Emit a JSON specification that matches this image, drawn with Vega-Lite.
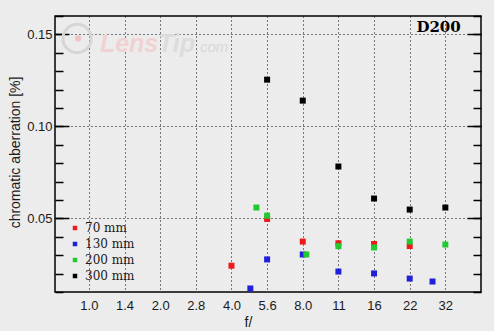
{
  "$schema": "https://vega.github.io/schema/vega-lite/v6.json",
  "width": 426,
  "height": 276,
  "autosize": {"type": "none"},
  "padding": {"left": 55, "top": 16, "right": 13, "bottom": 39},
  "background": "#ececec",
  "config": {
    "view": {"stroke": "black", "strokeWidth": 1.5},
    "axis": {"labelFont": "Liberation Sans", "titleFont": "Liberation Sans", "labelColor": "#1a1a1a", "titleColor": "#1a1a1a"}
  },
  "data": {
    "values": [
      {"focal": "70 mm", "stop": 4, "aberr": 0.0243},
      {"focal": "70 mm", "stop": 5, "aberr": 0.0497},
      {"focal": "70 mm", "stop": 6, "aberr": 0.0374},
      {"focal": "70 mm", "stop": 7, "aberr": 0.0365},
      {"focal": "70 mm", "stop": 8, "aberr": 0.0361},
      {"focal": "70 mm", "stop": 9, "aberr": 0.0350},
      {"focal": "130 mm", "stop": 4.53, "aberr": 0.0119},
      {"focal": "130 mm", "stop": 5, "aberr": 0.0277},
      {"focal": "130 mm", "stop": 6, "aberr": 0.0304},
      {"focal": "130 mm", "stop": 7, "aberr": 0.0211},
      {"focal": "130 mm", "stop": 8, "aberr": 0.0201},
      {"focal": "130 mm", "stop": 9, "aberr": 0.0173},
      {"focal": "130 mm", "stop": 9.64, "aberr": 0.0157},
      {"focal": "200 mm", "stop": 4.7, "aberr": 0.0559},
      {"focal": "200 mm", "stop": 5, "aberr": 0.0515},
      {"focal": "200 mm", "stop": 6.1, "aberr": 0.0304},
      {"focal": "200 mm", "stop": 7, "aberr": 0.0349},
      {"focal": "200 mm", "stop": 8, "aberr": 0.0342},
      {"focal": "200 mm", "stop": 9, "aberr": 0.0374},
      {"focal": "200 mm", "stop": 10, "aberr": 0.0358},
      {"focal": "300 mm", "stop": 5, "aberr": 0.1254},
      {"focal": "300 mm", "stop": 6, "aberr": 0.1140},
      {"focal": "300 mm", "stop": 7, "aberr": 0.0782},
      {"focal": "300 mm", "stop": 8, "aberr": 0.0608},
      {"focal": "300 mm", "stop": 9, "aberr": 0.0548},
      {"focal": "300 mm", "stop": 10, "aberr": 0.0559}
    ]
  },
  "layer": [
    {
      "data": {"values": [{"k": "logo"}]},
      "mark": {"type": "point", "shape": "circle", "filled": false, "stroke": "#d6d6d6", "strokeWidth": 3, "size": 800, "opacity": 1},
      "encoding": {
        "x": {"datum": -0.33, "type": "quantitative"},
        "y": {
          "datum": 0.1478,
          "type": "quantitative",
          "axis": {
            "orient": "left",
            "values": [0.01, 0.02, 0.03, 0.04, 0.05, 0.06, 0.07, 0.08, 0.09, 0.1, 0.11, 0.12, 0.13, 0.14, 0.15, 0.16],
            "labels": false, "ticks": true, "tickSize": 8, "offset": -8,
            "tickColor": "#000000", "tickWidth": 1.5, "domain": false, "grid": false, "title": null
          }
        }
      }
    },
    {
      "data": {"values": [{"k": "logo"}]},
      "mark": {"type": "point", "shape": "circle", "filled": true, "color": "#f0c4c4", "size": 40, "opacity": 1},
      "encoding": {
        "x": {"datum": -0.3, "type": "quantitative"},
        "y": {
          "datum": 0.1478,
          "type": "quantitative",
          "axis": {
            "orient": "left",
            "values": [0.05, 0.1, 0.15],
            "labels": false, "ticks": true, "tickSize": 14, "offset": -14,
            "tickColor": "#000000", "tickWidth": 1.5, "domain": false, "grid": false, "title": null
          }
        }
      }
    },
    {
      "data": {"values": [{"t": "Lens"}]},
      "mark": {"type": "text", "font": "Liberation Sans", "fontWeight": "bold", "fontStyle": "italic", "fontSize": 25, "color": "#f0d2d2", "align": "left", "baseline": "alphabetic"},
      "encoding": {
        "x": {"datum": 0.31, "type": "quantitative"},
        "y": {
          "datum": 0.1402,
          "type": "quantitative",
          "axis": {
            "orient": "right",
            "values": [0.01, 0.02, 0.03, 0.04, 0.05, 0.06, 0.07, 0.08, 0.09, 0.1, 0.11, 0.12, 0.13, 0.14, 0.15, 0.16],
            "labels": false, "ticks": true, "tickSize": 8, "offset": -8,
            "tickColor": "#000000", "tickWidth": 1.5, "domain": false, "grid": false, "title": null
          }
        },
        "text": {"field": "t"}
      }
    },
    {
      "data": {"values": [{"t": "Tip"}]},
      "mark": {"type": "text", "font": "Liberation Sans", "fontWeight": "bold", "fontStyle": "italic", "fontSize": 25, "color": "#dcdcdc", "align": "left", "baseline": "alphabetic"},
      "encoding": {
        "x": {"datum": 1.94, "type": "quantitative"},
        "y": {
          "datum": 0.1402,
          "type": "quantitative",
          "axis": {
            "orient": "right",
            "values": [0.05, 0.1, 0.15],
            "labels": false, "ticks": true, "tickSize": 14, "offset": -14,
            "tickColor": "#000000", "tickWidth": 1.5, "domain": false, "grid": false, "title": null
          }
        },
        "text": {"field": "t"}
      }
    },
    {
      "data": {"values": [{"t": ".com"}]},
      "mark": {"type": "text", "font": "Liberation Sans", "fontStyle": "italic", "fontSize": 15, "color": "#d8d8d8", "align": "left", "baseline": "alphabetic"},
      "encoding": {
        "x": {"datum": 3.0, "type": "quantitative"},
        "y": {"datum": 0.1402, "type": "quantitative", "axis": null},
        "text": {"field": "t"}
      }
    },
    {
      "mark": {"type": "square", "size": 36, "opacity": 1},
      "encoding": {
        "x": {
          "field": "stop",
          "type": "quantitative",
          "scale": {"domain": [-0.95, 11], "nice": false, "zero": false},
          "axis": {
            "values": [0, 1, 2, 3, 4, 5, 6, 7, 8, 9, 10],
            "labelExpr": "['1.0','1.4','2.0','2.8','4.0','5.6','8.0','11','16','22','32'][datum.value]",
            "ticks": false,
            "domain": false,
            "grid": true,
            "gridColor": "black",
            "gridDash": [1, 3],
            "gridWidth": 1,
            "gridOpacity": 1,
            "labelPadding": 7,
            "labelFontSize": 13,
            "title": "f/",
            "titleFontSize": 14,
            "titleFontWeight": "normal",
            "titleX": 193,
            "titleY": 34,
            "titleBaseline": "alphabetic",
            "titleAlign": "center"
          }
        },
        "y": {
          "field": "aberr",
          "type": "quantitative",
          "scale": {"domain": [0.01, 0.16], "nice": false, "zero": false},
          "axis": {
            "orient": "left",
            "values": [0.05, 0.1, 0.15],
            "format": ".2f",
            "ticks": false,
            "domain": false,
            "grid": true,
            "gridColor": "black",
            "gridDash": [1, 3],
            "gridOpacity": 1,
            "labelPadding": 3,
            "labelFontSize": 13,
            "title": "chromatic aberration [%]",
            "titleFontSize": 14,
            "titleFontWeight": "normal",
            "titleX": -40,
            "titleY": 136,
            "titleAlign": "center",
            "titleBaseline": "middle",
            "titleAngle": -90
          }
        },
        "color": {
          "field": "focal",
          "type": "nominal",
          "sort": ["70 mm", "130 mm", "200 mm", "300 mm"],
          "scale": {"domain": ["70 mm", "130 mm", "200 mm", "300 mm"], "range": ["#ee1a1a", "#2020d8", "#22c832", "#000000"]},
          "legend": {
            "orient": "none",
            "legendX": 14,
            "legendY": 206,
            "title": null,
            "symbolType": "square",
            "symbolSize": 20,
            "symbolStrokeWidth": 0,
            "symbolOpacity": 1,
            "labelFont": "DejaVu Serif",
            "labelFontSize": 12,
            "labelColor": "#1a1a1a",
            "rowPadding": 4,
            "labelOffset": 4,
            "padding": 0
          }
        }
      }
    },
    {
      "data": {"values": [{"label": "D200"}]},
      "mark": {"type": "text", "font": "DejaVu Serif", "fontWeight": "bold", "fontSize": 15, "color": "black", "baseline": "middle", "align": "center"},
      "encoding": {
        "x": {"datum": 9.81, "type": "quantitative"},
        "y": {"datum": 0.154, "type": "quantitative", "axis": null},
        "text": {"field": "label"}
      }
    }
  ],
  "resolve": {"axis": {"y": "independent"}}
}
